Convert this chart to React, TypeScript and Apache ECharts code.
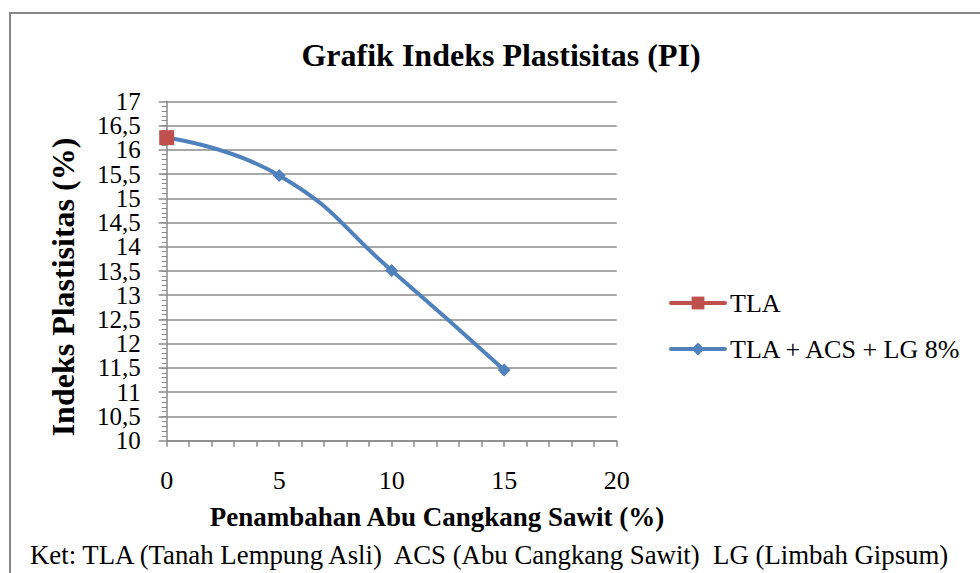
import React, { useEffect, useRef } from "react";
import * as echarts from "echarts";

const titleText = "Grafik Indeks Plastisitas (PI)";
const xAxisTitle = "Penambahan Abu Cangkang Sawit (%)";
const yAxisTitle = "Indeks Plastisitas (%)";
const noteText = "Ket: TLA (Tanah Lempung Asli)  ACS (Abu Cangkang Sawit)  LG (Limbah Gipsum)";

const seriesNames = ["TLA", "TLA + ACS + LG 8%"];
const tlaX = [0];
const tlaY = [16.25];
const mixX = [0, 5, 10, 15];
const mixY = [16.25, 15.47, 13.51, 11.46];

// y axis range / ticks (whole numbers and halves are labelled by two overlaid axes)
const yMin = 10;
const yMax = 17;
const yHalfMin = 10.5;
const yHalfMax = 16.5;
const xMin = 0;
const xMax = 20;
const xStep = 5;

const FONT = "Liberation Serif, Times New Roman, serif";
const GRAY = "#8a8a8a";

const GRID_LEFT = 166.7;
const GRID_TOP = 101.3;
const GRID_RIGHT = 363.3;
const GRID_BOTTOM = 132.3;
const HALF_STEP_PX = (573 - GRID_TOP - GRID_BOTTOM) / (yMax - yMin) / 2;

const fmt = (v: number) => String(v).replace(".", ",");

export default function App() {
  const ref = useRef<HTMLDivElement>(null);
  useEffect(() => {
    if (!ref.current) return;
    const chart = echarts.init(ref.current, undefined, { renderer: "svg" });
    const labelStyle = {
      fontFamily: FONT,
      fontSize: 25,
      color: "#000",
      margin: 26,
      showMinLabel: true,
      showMaxLabel: true,
      formatter: fmt,
    };
    chart.setOption({
      animation: false,
      backgroundColor: "#ffffff",
      textStyle: { fontFamily: FONT, color: "#000" },
      grid: [
        { left: GRID_LEFT, top: GRID_TOP, right: GRID_RIGHT, bottom: GRID_BOTTOM, containLabel: false },
        {
          left: GRID_LEFT,
          top: GRID_TOP + HALF_STEP_PX,
          right: GRID_RIGHT,
          bottom: GRID_BOTTOM + HALF_STEP_PX,
          containLabel: false,
        },
      ],
      legend: {
        orient: "vertical",
        left: 669,
        top: 290,
        padding: 0,
        itemWidth: 54,
        itemHeight: 16,
        itemGap: 20,
        data: seriesNames,
        lineStyle: { width: 4 },
        textStyle: { fontFamily: FONT, fontSize: 26, color: "#000" },
      },
      xAxis: [
        {
          type: "value",
          gridIndex: 0,
          min: xMin,
          max: xMax,
          interval: xStep,
          axisLine: { show: true, lineStyle: { color: GRAY, width: 1.5 } },
          axisTick: { show: true, length: 6, lineStyle: { color: GRAY, width: 1.5 } },
          minorTick: { show: true, splitNumber: 5, length: 6, lineStyle: { color: GRAY, width: 1.5 } },
          splitLine: { show: false },
          axisLabel: {
            fontFamily: FONT,
            fontSize: 26,
            color: "#000",
            margin: 27,
            showMinLabel: true,
            showMaxLabel: true,
          },
        },
        {
          type: "value",
          gridIndex: 1,
          min: xMin,
          max: xMax,
          show: false,
        },
      ],
      yAxis: [
        {
          type: "value",
          gridIndex: 0,
          min: yMin,
          max: yMax,
          interval: 1,
          axisLine: { show: true, lineStyle: { color: GRAY, width: 1.5 } },
          axisTick: { show: true, length: 8, lineStyle: { color: GRAY, width: 1.5 } },
          minorTick: { show: true, splitNumber: 10, length: 5, lineStyle: { color: GRAY, width: 1 } },
          splitLine: { show: true, lineStyle: { color: GRAY, width: 1.5 } },
          axisLabel: labelStyle,
        },
        {
          type: "value",
          gridIndex: 1,
          min: yHalfMin,
          max: yHalfMax,
          interval: 1,
          axisLine: { show: false },
          axisTick: { show: true, length: 8, lineStyle: { color: GRAY, width: 1.5 } },
          splitLine: { show: true, lineStyle: { color: GRAY, width: 1.5 } },
          axisLabel: labelStyle,
        },
      ],
      series: [
        {
          name: seriesNames[1],
          type: "line",
          xAxisIndex: 0,
          yAxisIndex: 0,
          data: mixX.map((x, i) => [x, mixY[i]]),
          smooth: 0.5,
          symbol: "diamond",
          symbolSize: 13,
          lineStyle: { color: "#4F81BD", width: 4, cap: "round" },
          itemStyle: { color: "#4F81BD" },
          z: 3,
        },
        {
          name: seriesNames[0],
          type: "line",
          xAxisIndex: 0,
          yAxisIndex: 0,
          data: tlaX.map((x, i) => [x, tlaY[i]]),
          symbol: "rect",
          symbolSize: 15,
          lineStyle: { color: "#C0504D", width: 4, cap: "round" },
          itemStyle: { color: "#C0504D" },
          z: 4,
        },
      ],
      graphic: [
        {
          type: "rect",
          z: -10,
          shape: { x: 10, y: 13, width: 1000, height: 700 },
          style: { fill: "none", stroke: "#868686", lineWidth: 2 },
        },
        {
          type: "text",
          x: 501,
          y: 55,
          style: {
            text: titleText,
            fontFamily: FONT,
            fontWeight: "bold",
            fontSize: 32,
            fill: "#000",
            textAlign: "center",
            textVerticalAlign: "middle",
          },
        },
        {
          type: "text",
          x: 437,
          y: 517,
          style: {
            text: xAxisTitle,
            fontFamily: FONT,
            fontWeight: "bold",
            fontSize: 27,
            fill: "#000",
            textAlign: "center",
            textVerticalAlign: "middle",
          },
        },
        {
          type: "text",
          x: 63,
          y: 287,
          rotation: Math.PI / 2,
          style: {
            text: yAxisTitle,
            fontFamily: FONT,
            fontWeight: "bold",
            fontSize: 32,
            fill: "#000",
            textAlign: "center",
            textVerticalAlign: "middle",
          },
        },
        {
          type: "text",
          x: 30,
          y: 555,
          style: {
            text: noteText,
            fontFamily: FONT,
            fontSize: 26.8,
            fill: "#000",
            textAlign: "left",
            textVerticalAlign: "middle",
          },
        },
      ],
    });
    return () => chart.dispose();
  }, []);
  return (
    <div
      ref={ref}
      style={{ position: "fixed", left: 0, top: 0, width: 980, height: 573 }}
    />
  );
}
